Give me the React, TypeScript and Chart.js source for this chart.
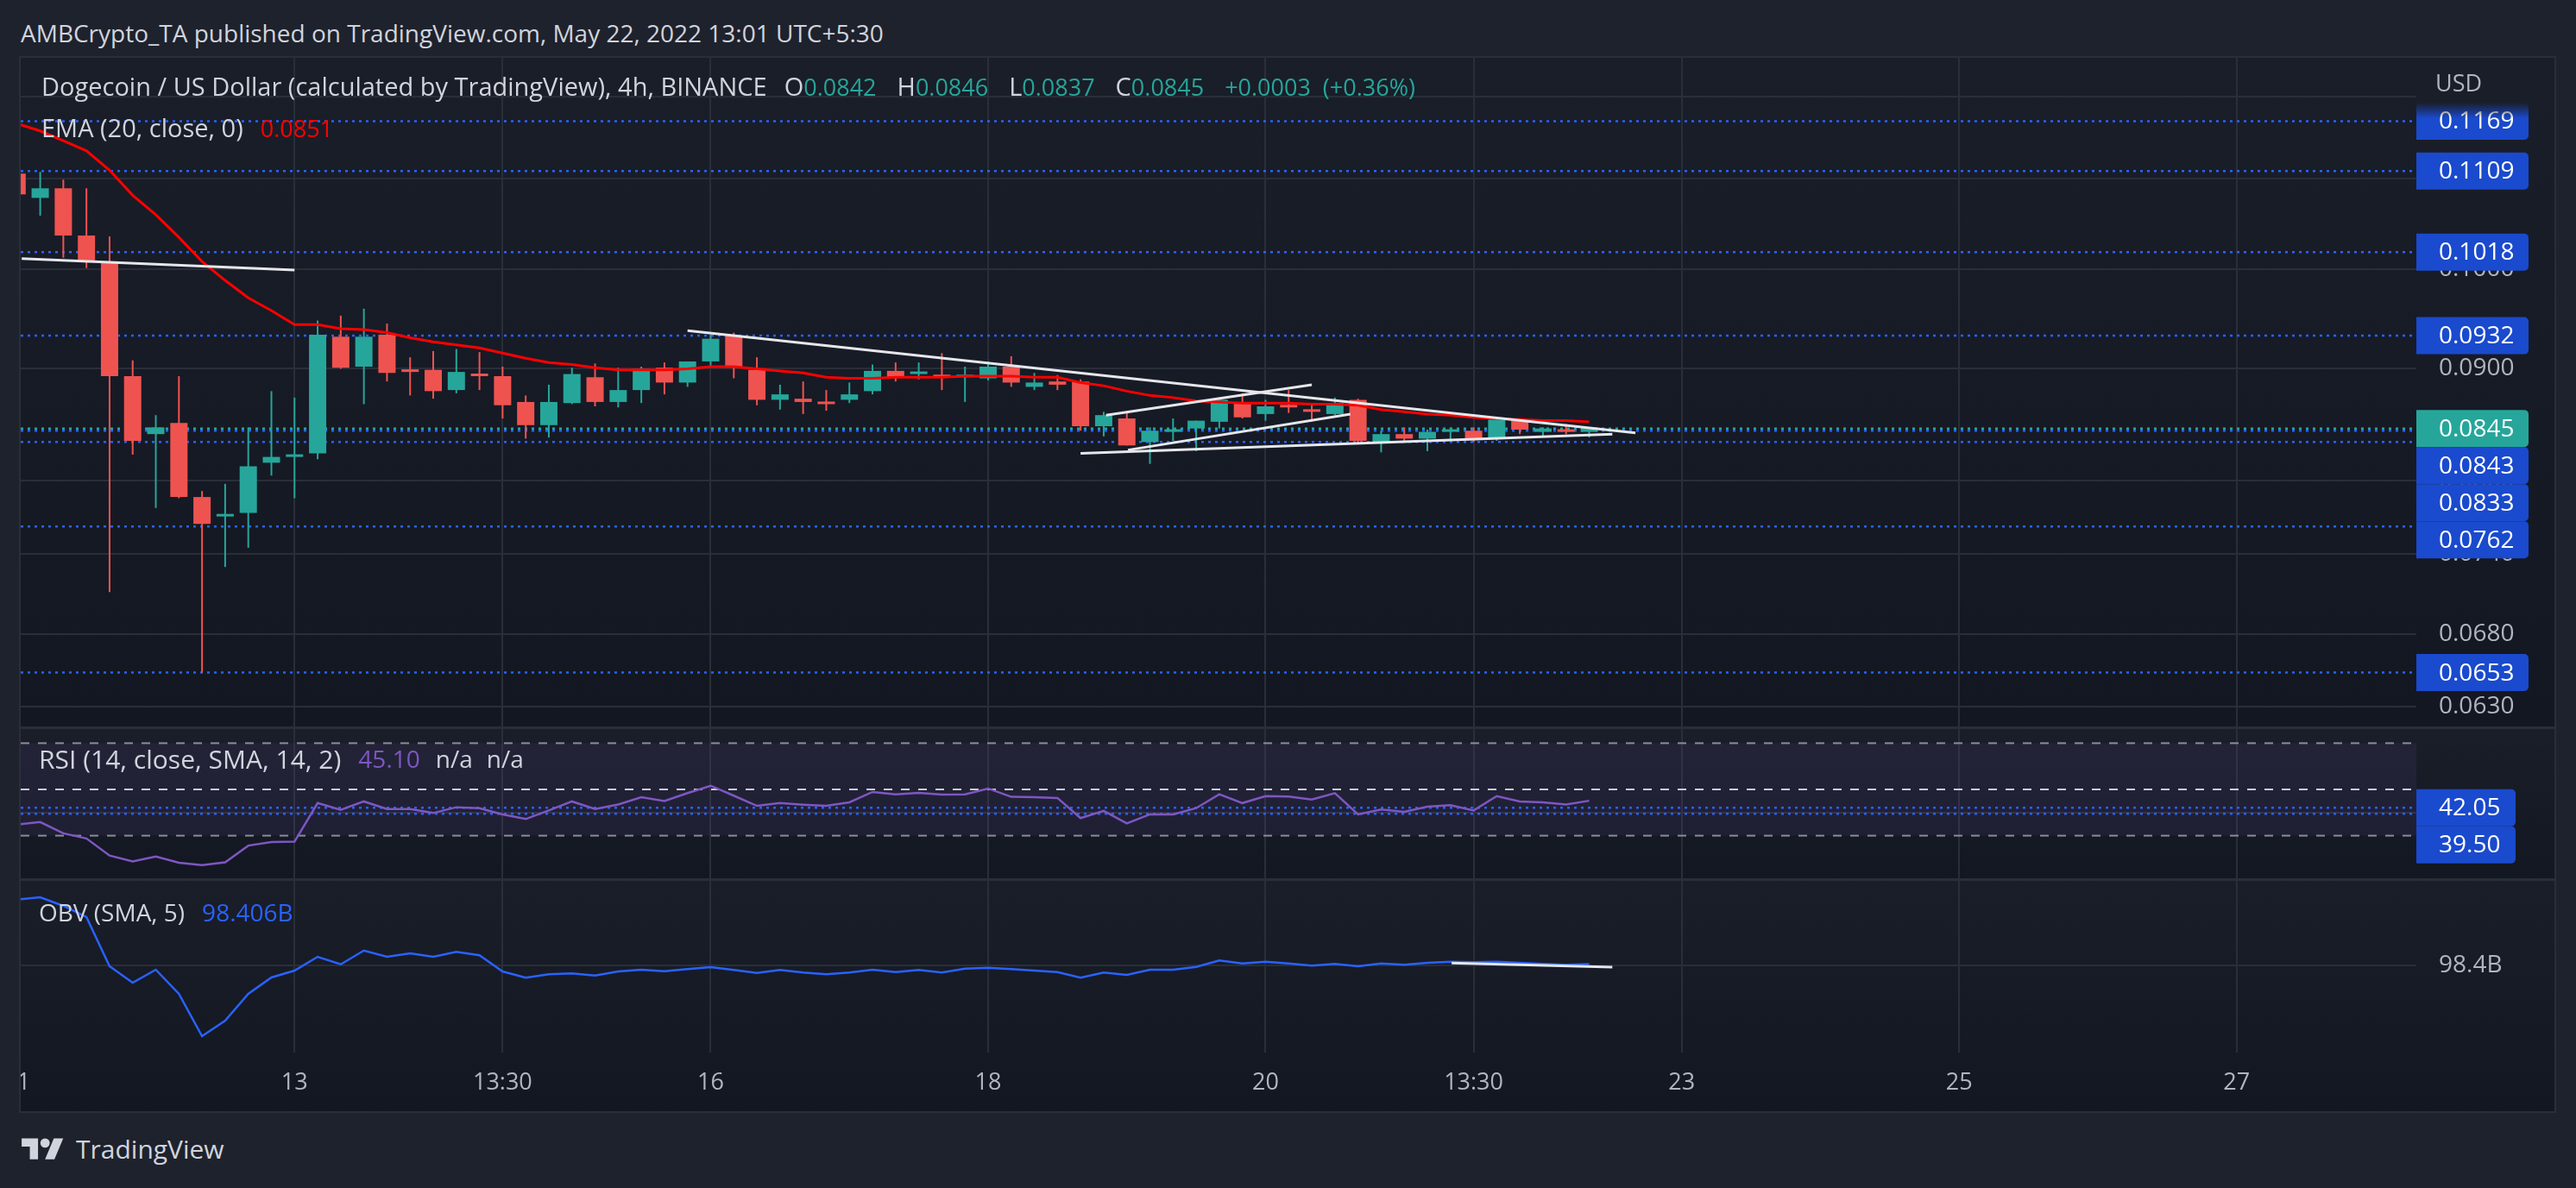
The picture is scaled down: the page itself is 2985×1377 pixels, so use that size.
import React, { useEffect, useRef } from "react";
import { Chart, registerables } from "chart.js";

Chart.register(...registerables);

// ---------- style constants ----------
const FONT = "'Open Sans', 'Noto Sans', sans-serif";
const UP = "#26a69a";
const DOWN = "#ef5350";
const GRID = "#2a2e39";
const AXIS_TEXT = "#b2b5be";
const LEGEND_TEXT = "#d1d4dc";
const LEVEL_BLUE = "#2962ff";
const TAG_BLUE = "#1a4acd";
const EMA_RED = "#ff0000";
const RSI_PURPLE = "#7e57c2";
const OBV_BLUE = "#2962ff";
const PANE_TOP = "#1a1e29";
const PANE_BOTTOM = "#131722";
const OUTER = "#1e222d";
const AXIS_W = 160;

// ---------- data (4h DOGE/USD candles, index 0 = 11 May 00:00) ----------
const OPEN = [0.1106, 0.1078, 0.1089, 0.1036, 0.1007, 0.0893, 0.0840, 0.0850, 0.0786, 0.0770,
  0.0773, 0.0815, 0.0820, 0.0823, 0.0931, 0.0902, 0.0933, 0.0898, 0.0899, 0.0880,
  0.0894, 0.0893, 0.0869, 0.0848, 0.0868, 0.0892, 0.0869, 0.0880, 0.0901, 0.0887,
  0.0907, 0.0932, 0.0899, 0.0871, 0.0872, 0.0869, 0.0871, 0.0879, 0.0898, 0.0895,
  0.0894, 0.0892, 0.0891, 0.0902, 0.0883, 0.0888, 0.0888, 0.0847, 0.0854, 0.0833,
  0.0842, 0.0845, 0.0851, 0.0868, 0.0858, 0.0865, 0.0861, 0.0858, 0.0871, 0.0833,
  0.0840, 0.0836, 0.0842, 0.0843, 0.0836, 0.0852, 0.0842, 0.0844, 0.0842];
const HIGH = [0.1112, 0.1108, 0.1099, 0.1089, 0.1035, 0.0908, 0.0857, 0.0893, 0.0791, 0.0797,
  0.0846, 0.0879, 0.0873, 0.0947, 0.0952, 0.0959, 0.0944, 0.0911, 0.0917, 0.0919,
  0.0916, 0.0902, 0.0875, 0.0885, 0.0901, 0.0905, 0.0901, 0.0902, 0.0906, 0.0907,
  0.0933, 0.0935, 0.0911, 0.0885, 0.0888, 0.0880, 0.0887, 0.0904, 0.0906, 0.0906,
  0.0915, 0.0902, 0.0907, 0.0912, 0.0896, 0.0894, 0.0890, 0.0860, 0.0860, 0.0846,
  0.0854, 0.0852, 0.0873, 0.0877, 0.0871, 0.0880, 0.0868, 0.0873, 0.0872, 0.0843,
  0.0846, 0.0844, 0.0846, 0.0846, 0.0854, 0.0854, 0.0846, 0.0849, 0.0846];
const LOW = [0.1078, 0.1058, 0.1012, 0.1001, 0.0711, 0.0822, 0.0777, 0.0785, 0.0653, 0.0730,
  0.0745, 0.0804, 0.0785, 0.0818, 0.0900, 0.0867, 0.0888, 0.0875, 0.0872, 0.0877,
  0.0880, 0.0854, 0.0836, 0.0837, 0.0867, 0.0865, 0.0864, 0.0868, 0.0876, 0.0883,
  0.0901, 0.0891, 0.0866, 0.0862, 0.0858, 0.0861, 0.0868, 0.0876, 0.0888, 0.0890,
  0.0880, 0.0869, 0.0889, 0.0883, 0.0880, 0.0880, 0.0843, 0.0838, 0.0830, 0.0814,
  0.0834, 0.0825, 0.0845, 0.0854, 0.0852, 0.0859, 0.0851, 0.0857, 0.0831, 0.0824,
  0.0834, 0.0825, 0.0834, 0.0833, 0.0834, 0.0840, 0.0838, 0.0840, 0.0837];
const CLOSE = [0.1082, 0.1089, 0.1036, 0.1008, 0.0893, 0.0834, 0.0846, 0.0786, 0.0764, 0.0772,
  0.0812, 0.0820, 0.0822, 0.0933, 0.0901, 0.0931, 0.0896, 0.0897, 0.0879, 0.0897,
  0.0893, 0.0866, 0.0848, 0.0869, 0.0895, 0.0869, 0.0880, 0.0900, 0.0887, 0.0907,
  0.0929, 0.0901, 0.0871, 0.0876, 0.0869, 0.0867, 0.0876, 0.0898, 0.0892, 0.0897,
  0.0892, 0.0893, 0.0902, 0.0887, 0.0887, 0.0885, 0.0847, 0.0857, 0.0830, 0.0843,
  0.0844, 0.0852, 0.0871, 0.0855, 0.0865, 0.0864, 0.0860, 0.0868, 0.0834, 0.0840,
  0.0836, 0.0842, 0.0844, 0.0836, 0.0853, 0.0844, 0.0845, 0.0842, 0.0845];
const EMA20 = [0.1166, 0.1157, 0.1145, 0.1133, 0.1110, 0.1081, 0.1059, 0.1034, 0.1008, 0.0988,
  0.0970, 0.0957, 0.0943, 0.0943, 0.0939, 0.0938, 0.0935, 0.0930, 0.0926, 0.0923,
  0.0920, 0.0915, 0.0910, 0.0906, 0.0904, 0.0901, 0.0899, 0.0899, 0.0899, 0.0900,
  0.0902, 0.0902, 0.0900, 0.0898, 0.0896, 0.0892, 0.0891, 0.0891, 0.0892, 0.0892,
  0.0892, 0.0893, 0.0893, 0.0893, 0.0892, 0.0892, 0.0887, 0.0884, 0.0879, 0.0875,
  0.0873, 0.0870, 0.0869, 0.0868, 0.0868, 0.0868, 0.0867, 0.0867, 0.0866, 0.0862,
  0.0860, 0.0858, 0.0857, 0.0855, 0.0854, 0.0853, 0.0852, 0.0852, 0.0851];
const RSI14 = [34.8, 35.9, 31.0, 28.8, 21.4, 18.9, 21.0, 18.3, 17.3, 18.5,
  25.7, 27.2, 27.4, 44.1, 41.2, 44.8, 41.5, 41.5, 39.8, 42.3,
  41.9, 39.2, 37.2, 40.9, 44.8, 41.5, 43.5, 46.6, 45.0, 48.4,
  51.6, 47.3, 42.9, 44.1, 43.4, 42.9, 44.4, 48.9, 47.9, 48.5,
  47.8, 47.9, 50.4, 46.8, 46.6, 46.3, 37.6, 40.7, 35.3, 39.2,
  39.2, 41.9, 47.9, 44.1, 47.1, 46.9, 45.6, 48.4, 39.2, 41.3,
  40.3, 42.5, 43.2, 40.9, 47.1, 44.8, 44.4, 43.5, 45.1];
const OBV_B = [98.705, 98.716, 98.676, 98.624, 98.396, 98.320, 98.380, 98.268, 98.072, 98.144,
  98.268, 98.344, 98.376, 98.440, 98.405, 98.469, 98.440, 98.456, 98.440, 98.463,
  98.447, 98.372, 98.343, 98.359, 98.363, 98.353, 98.372, 98.380, 98.373, 98.383,
  98.392, 98.379, 98.365, 98.379, 98.367, 98.359, 98.367, 98.380, 98.369, 98.379,
  98.367, 98.385, 98.389, 98.383, 98.376, 98.369, 98.343, 98.367, 98.356, 98.380,
  98.380, 98.393, 98.423, 98.409, 98.417, 98.409, 98.399, 98.407, 98.396, 98.409,
  98.403, 98.412, 98.417, 98.415, 98.417, 98.412, 98.407, 98.403, 98.406];

const TIME_TICK_POS = [0, 12, 21, 30, 42, 54, 63, 72, 84, 96];
const TIME_TICK_LABELS = ["11", "13", "13:30", "16", "18", "20", "13:30", "23", "25", "27"];
const PRICE_TICKS = [0.12, 0.11, 0.1, 0.09, 0.08, 0.074, 0.068, 0.063];
const H_LEVELS = [0.1169, 0.1109, 0.1018, 0.0932, 0.0843, 0.0833, 0.0762, 0.0653];
const LAST_PRICE = 0.0845;
const TREND_LINES = [
  [[0.2, 0.1011], [12, 0.0999]],
  [[29, 0.0937], [70, 0.0841]],
  [[47.1, 0.0857], [56, 0.0885]],
  [[48.05, 0.0826], [57.67, 0.0858]],
  [[46, 0.0823], [69, 0.084]],
];
const RSI_BANDS = [70, 50, 30];
const RSI_LEVELS = [42.05, 39.5];
const RSI_TICKS = [40];
const OBV_TICKS = [98.4];
const OBV_TREND = [[62.05, 98.411], [69, 98.392]];

// visible ranges
const X_MIN = 0.157, X_MAX = 103.777;
const PRICE_MIN = 0.061688, PRICE_MAX = 0.12499;
const RSI_MIN = 11.57, RSI_MAX = 76.12;
const OBV_MIN = 97.996, OBV_MAX = 98.792;

// ---------- helpers ----------
const LAST = CLOSE.length - 1;
const xs = OPEN.map((_, i) => i);
const candleColors = xs.map((i) => (CLOSE[i] >= OPEN[i] ? UP : DOWN));

function xScale(showLabels: boolean) {
  return {
    type: "linear",
    min: X_MIN,
    max: X_MAX,
    offset: false,
    bounds: "data",
    grid: { color: GRID, lineWidth: 2, drawTicks: false, offset: false },
    border: { display: false },
    afterBuildTicks: (s: any) => {
      s.ticks = TIME_TICK_POS.map((v) => ({ value: v }));
    },
    afterFit: (s: any) => {
      s.height = showLabels ? 68 : 0;
      s.paddingLeft = 0;
      s.paddingRight = 0;
    },
    ticks: {
      display: showLabels,
      autoSkip: false,
      maxRotation: 0,
      minRotation: 0,
      padding: 19,
      color: AXIS_TEXT,
      font: { size: 27, family: FONT },
      callback: (v: any) => {
        const k = TIME_TICK_POS.indexOf(Number(v));
        return k >= 0 ? TIME_TICK_LABELS[k] : "";
      },
    },
  };
}

function yScale(type: string, min: number, max: number, ticks: number[], fmt: ((v: number) => string) | null) {
  return {
    type,
    position: "right",
    min,
    max,
    bounds: "data",
    beginAtZero: false,
    grid: { color: GRID, lineWidth: 2, drawTicks: false },
    border: { display: false },
    afterBuildTicks: (s: any) => {
      s.ticks = ticks.map((v) => ({ value: v }));
    },
    afterFit: (s: any) => {
      s.width = AXIS_W;
      s.paddingTop = 0;
      s.paddingBottom = 0;
    },
    ticks: {
      display: !!fmt,
      padding: 26,
      color: AXIS_TEXT,
      font: { size: 28, family: FONT },
      callback: (v: any) => (fmt ? fmt(Number(v)) : ""),
    },
  };
}

const baseOptions = {
  responsive: false,
  maintainAspectRatio: false,
  animation: false,
  devicePixelRatio: 1,
  events: [],
  layout: { padding: 0 },
  plugins: { legend: { display: false }, tooltip: { enabled: false } },
};

function hLine(v: number, color: string, dash: number[], width: number, order: number) {
  return {
    type: "line",
    data: [{ x: X_MIN, y: v }, { x: X_MAX, y: v }],
    borderColor: color,
    borderDash: dash,
    borderWidth: width,
    pointRadius: 0,
    order,
  };
}

function segment(pts: number[][], color: string, width: number, order: number) {
  return {
    type: "line",
    data: pts.map(([x, y]) => ({ x, y })),
    borderColor: color,
    borderWidth: width,
    pointRadius: 0,
    order,
  };
}

// runs: [text, color, gapAfter, fontSize]
function drawRuns(ctx: any, x: number, y: number, runs: [string, string, number, number][]) {
  ctx.textAlign = "left";
  ctx.textBaseline = "middle";
  for (const [text, color, gap, size] of runs) {
    ctx.font = `${size}px ${FONT}`;
    ctx.fillStyle = color;
    ctx.fillText(text, x, y);
    x += ctx.measureText(text).width + gap;
  }
}

function drawTags(ctx: any, tags: any[], x: number, w: number, h: number) {
  let prev = -Infinity;
  ctx.font = `28px ${FONT}`;
  ctx.textAlign = "left";
  ctx.textBaseline = "middle";
  for (const t of tags) {
    const top = Math.max(t.c - h / 2, prev);
    prev = top + h;
    ctx.fillStyle = t.bg;
    ctx.beginPath();
    ctx.roundRect(x, top, w, h, [0, 5, 5, 0]);
    ctx.fill();
    ctx.fillStyle = "#ffffff";
    ctx.fillText(t.text, x + 26, top + h / 2 + 1);
  }
}

const TXT = 29; // label text size
const NUM = 27; // numeric value size

// ---------- plugins ----------
const mainOverlay = {
  id: "mainOverlay",
  afterDraw(chart: any) {
    const { ctx, chartArea: a } = chart;
    const y = chart.scales.y;
    ctx.save();
    const tags = [...H_LEVELS.map((v) => ({ v, bg: TAG_BLUE })), { v: LAST_PRICE, bg: UP }]
      .sort((p, q) => q.v - p.v)
      .map((t) => ({ ...t, c: y.getPixelForValue(t.v), text: t.v.toFixed(4) }));
    drawTags(ctx, tags, a.right, 130, 43);

    // "USD" header cell on the price scale
    const coverBottom = 52;
    ctx.fillStyle = PANE_TOP;
    ctx.fillRect(a.right, 0, AXIS_W, coverBottom);
    const g = ctx.createLinearGradient(0, coverBottom, 0, coverBottom + 18);
    g.addColorStop(0, PANE_TOP);
    g.addColorStop(1, "rgba(26,30,41,0)");
    ctx.fillStyle = g;
    ctx.fillRect(a.right, coverBottom, 130, 18);
    drawRuns(ctx, a.right + 22, 31, [["USD", AXIS_TEXT, 0, 27]]);

    // legend
    const chg = CLOSE[LAST] - CLOSE[LAST - 1];
    const pct = (chg / CLOSE[LAST - 1]) * 100;
    const sign = chg >= 0 ? "+" : "";
    const valColor = chg >= 0 ? UP : DOWN;
    drawRuns(ctx, 24, 36, [
      ["Dogecoin / US Dollar (calculated by TradingView), 4h, BINANCE", LEGEND_TEXT, 20, TXT],
      ["O", LEGEND_TEXT, 0, TXT], [OPEN[LAST].toFixed(4), valColor, 24, NUM],
      ["H", LEGEND_TEXT, 0, TXT], [HIGH[LAST].toFixed(4), valColor, 24, NUM],
      ["L", LEGEND_TEXT, 0, TXT], [LOW[LAST].toFixed(4), valColor, 24, NUM],
      ["C", LEGEND_TEXT, 0, TXT], [CLOSE[LAST].toFixed(4), valColor, 24, NUM],
      [`${sign}${chg.toFixed(4)}`, valColor, 14, NUM],
      [`(${sign}${pct.toFixed(2)}%)`, valColor, 0, NUM],
    ]);
    drawRuns(ctx, 24, 84, [
      ["EMA (20, close, 0)", LEGEND_TEXT, 20, TXT],
      [EMA20[LAST].toFixed(4), EMA_RED, 0, NUM],
    ]);
    ctx.restore();
  },
};

const rsiOverlay = {
  id: "rsiOverlay",
  beforeDatasetsDraw(chart: any) {
    const { ctx, chartArea: a } = chart;
    const y = chart.scales.y;
    const top = y.getPixelForValue(RSI_BANDS[0]);
    const bot = y.getPixelForValue(RSI_BANDS[2]);
    ctx.save();
    ctx.fillStyle = "rgba(126,87,194,0.1)";
    ctx.fillRect(a.left, top, a.right - a.left, bot - top);
    ctx.restore();
  },
  afterDraw(chart: any) {
    const { ctx, chartArea: a } = chart;
    const y = chart.scales.y;
    ctx.save();
    const tags = RSI_LEVELS.map((v) => ({ v, bg: TAG_BLUE, c: y.getPixelForValue(v), text: v.toFixed(2) }));
    drawTags(ctx, tags, a.right, 115, 43);
    drawRuns(ctx, 21, 37, [
      ["RSI (14, close, SMA, 14, 2)", LEGEND_TEXT, 20, 30],
      [RSI14[LAST].toFixed(2), RSI_PURPLE, 18, 28],
      ["n/a", LEGEND_TEXT, 16, 28],
      ["n/a", LEGEND_TEXT, 0, 28],
    ]);
    ctx.restore();
  },
};

const obvOverlay = {
  id: "obvOverlay",
  afterDraw(chart: any) {
    const { ctx } = chart;
    ctx.save();
    drawRuns(ctx, 21, 39, [
      ["OBV (SMA, 5)", LEGEND_TEXT, 20, 28],
      [`${OBV_B[LAST].toFixed(3)}B`, OBV_BLUE, 0, 28],
    ]);
    ctx.restore();
  },
};

// ---------- chart configs ----------
function mainConfig(): any {
  return {
    type: "line",
    data: {
      datasets: [
        ...TREND_LINES.map((seg) => segment(seg, "#e6e7eb", 3, 0)),
        {
          type: "line",
          data: xs.map((i) => ({ x: i, y: EMA20[i] })),
          borderColor: EMA_RED,
          borderWidth: 3,
          pointRadius: 0,
          tension: 0,
          order: 1,
        },
        {
          type: "bar",
          data: xs.map((i) => ({ x: i, y: [OPEN[i], CLOSE[i]] })),
          backgroundColor: candleColors,
          borderWidth: 0,
          grouped: false,
          categoryPercentage: 1,
          barPercentage: 0.9,
          maxBarThickness: 20,
          minBarLength: 3,
          order: 2,
        },
        {
          type: "bar",
          data: xs.map((i) => ({ x: i, y: [LOW[i], HIGH[i]] })),
          backgroundColor: candleColors,
          borderWidth: 0,
          grouped: false,
          categoryPercentage: 1,
          barPercentage: 0.5,
          maxBarThickness: 2,
          order: 3,
        },
        hLine(LAST_PRICE, UP, [3, 5], 2.5, 5),
        ...H_LEVELS.map((v) => hLine(v, LEVEL_BLUE, [3, 5], 2.5, 6)),
      ],
    },
    options: {
      ...baseOptions,
      scales: {
        x: xScale(false),
        y: yScale("logarithmic", PRICE_MIN, PRICE_MAX, PRICE_TICKS, (v) => v.toFixed(4)),
      },
    },
    plugins: [mainOverlay],
  };
}

function rsiConfig(): any {
  return {
    type: "line",
    data: {
      datasets: [
        {
          type: "line",
          data: xs.map((i) => ({ x: i, y: RSI14[i] })),
          borderColor: RSI_PURPLE,
          borderWidth: 2.5,
          pointRadius: 0,
          order: 0,
        },
        ...RSI_BANDS.map((v, k) => hLine(v, k === 1 ? "#c9cbd3" : "#8a8d97", [10, 10], 2, 3)),
        ...RSI_LEVELS.map((v) => hLine(v, LEVEL_BLUE, [3, 5], 2.5, 4)),
      ],
    },
    options: {
      ...baseOptions,
      scales: {
        x: xScale(false),
        y: yScale("linear", RSI_MIN, RSI_MAX, RSI_TICKS, null),
      },
    },
    plugins: [rsiOverlay],
  };
}

function obvConfig(): any {
  return {
    type: "line",
    data: {
      datasets: [
        segment(OBV_TREND, "#e6e7eb", 3, 0),
        {
          type: "line",
          data: xs.map((i) => ({ x: i, y: OBV_B[i] })),
          borderColor: OBV_BLUE,
          borderWidth: 2.5,
          pointRadius: 0,
          order: 1,
        },
      ],
    },
    options: {
      ...baseOptions,
      scales: {
        x: xScale(true),
        y: yScale("linear", OBV_MIN, OBV_MAX, OBV_TICKS, (v) => `${v.toFixed(1)}B`),
      },
    },
    plugins: [obvOverlay],
  };
}

// ---------- component ----------
const PANE_LEFT = 24;
const PANE_W = 2936;
const PANES = [
  { top: 67, h: 775 },
  { top: 845, h: 173 },
  { top: 1021, h: 267 },
];

export default function App() {
  const mainRef = useRef<HTMLCanvasElement>(null);
  const rsiRef = useRef<HTMLCanvasElement>(null);
  const obvRef = useRef<HTMLCanvasElement>(null);

  useEffect(() => {
    Chart.defaults.font.family = FONT;
    const charts = [
      new Chart(mainRef.current as any, mainConfig()),
      new Chart(rsiRef.current as any, rsiConfig()),
      new Chart(obvRef.current as any, obvConfig()),
    ];
    return () => charts.forEach((c) => c.destroy());
  }, []);

  const refs = [mainRef, rsiRef, obvRef];

  return (
    <div
      style={{
        position: "fixed",
        left: 0,
        top: 0,
        width: 2985,
        height: 1377,
        background: OUTER,
        overflow: "hidden",
        fontFamily: FONT,
      }}
    >
      <div
        style={{
          position: "absolute",
          left: 24,
          top: 20,
          fontSize: 28,
          lineHeight: "36px",
          color: LEGEND_TEXT,
          whiteSpace: "nowrap",
        }}
      >
        AMBCrypto_TA published on TradingView.com, May 22, 2022 13:01 UTC+5:30
      </div>
      <div style={{ position: "absolute", left: 22, top: 65, width: 2940, height: 1225, background: GRID }} />
      {PANES.map((p, k) => (
        <div
          key={"bg" + k}
          style={{
            position: "absolute",
            left: PANE_LEFT,
            top: p.top,
            width: PANE_W,
            height: p.h,
            background: `linear-gradient(${PANE_TOP}, ${PANE_BOTTOM})`,
          }}
        />
      ))}
      {PANES.map((p, k) => (
        <canvas
          key={"cv" + k}
          ref={refs[k]}
          width={PANE_W}
          height={p.h}
          style={{ position: "absolute", left: PANE_LEFT, top: p.top, width: PANE_W, height: p.h }}
        />
      ))}
      <svg
        viewBox="0 0 36 28"
        width={49}
        height={38}
        style={{ position: "absolute", left: 25, top: 1314 }}
        fill="#d1d4dc"
      >
        <path d="M14 22H7V11H0V4h14v18zM28 22h-8l7.5-18h8L28 22z" />
        <circle cx="20" cy="8" r="4" />
      </svg>
      <div
        style={{
          position: "absolute",
          left: 88,
          top: 1312,
          fontSize: 30,
          lineHeight: "40px",
          color: LEGEND_TEXT,
          whiteSpace: "nowrap",
        }}
      >
        TradingView
      </div>
    </div>
  );
}
